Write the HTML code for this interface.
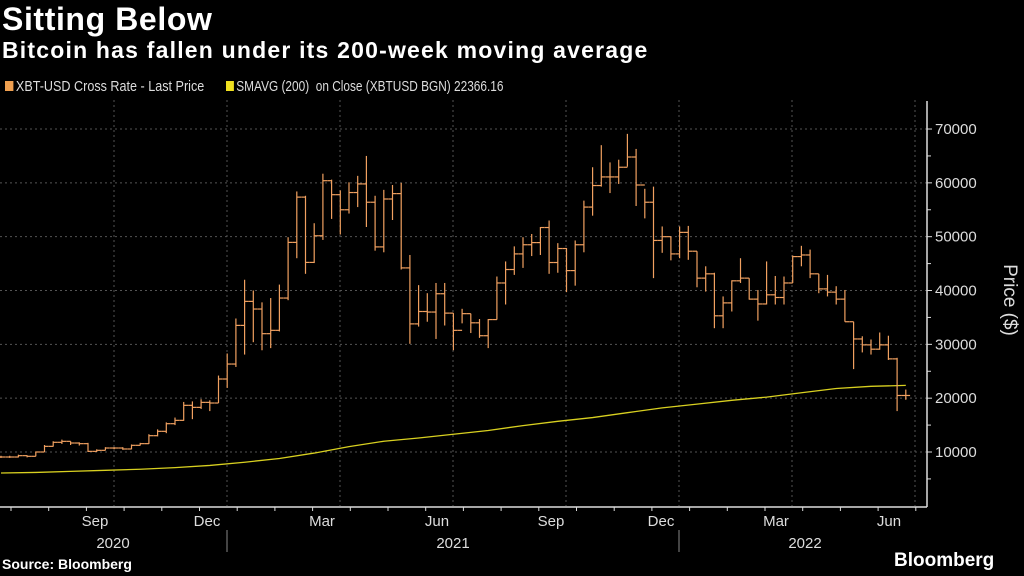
<!DOCTYPE html>
<html><head><meta charset="utf-8"><style>
html,body{margin:0;padding:0;background:#000;}
body{width:1024px;height:576px;overflow:hidden;font-family:"Liberation Sans",sans-serif;color:#fff;position:relative;}
.t{position:absolute;white-space:nowrap;}
</style></head><body>
<div class="t" style="left:2px;top:1px;font-size:32px;font-weight:bold;letter-spacing:0.6px;">Sitting Below</div>
<div class="t" style="left:2px;top:37px;font-size:23px;font-weight:bold;letter-spacing:1.2px;">Bitcoin has fallen under its 200-week moving average</div>
<div class="t" style="left:5px;top:78px;font-size:15px;color:#ddd;transform:scaleX(0.84);transform-origin:left;"><span style="display:inline-block;width:10px;height:10px;background:#f0a050;margin-right:3px;"></span>XBT-USD Cross Rate - Last Price</div>
<div class="t" style="left:226px;top:78px;font-size:15px;color:#ddd;transform:scaleX(0.79);transform-origin:left;"><span style="display:inline-block;width:10px;height:10px;background:#f0e020;margin-right:3px;"></span>SMAVG (200)&nbsp; on Close (XBTUSD BGN) 22366.16</div>
<div class="t" style="left:2px;top:556px;font-size:14px;font-weight:bold;">Source: Bloomberg</div>
<div class="t" style="left:894px;top:550px;font-size:19px;font-weight:bold;">Bloomberg</div>
<svg id="c" width="1024" height="576" style="position:absolute;left:0;top:0"></svg>
<script>
const highs=[9.3,9.3,9.5,9.4,10.1,11.3,12.0,12.3,12.0,11.8,11.7,10.5,10.9,10.9,10.9,11.4,11.7,13.3,14.2,15.5,16.4,19.3,19.4,19.8,19.6,24.2,28.3,34.8,42.0,40.0,37.8,38.6,41.1,49.9,58.4,57.6,52.5,
61.7,60.6,58.6,60.1,61.3,65.0,57.6,58.7,59.6,60.0,46.6,41.0,39.5,41.4,41.4,35.8,36.6,35.7,34.7,34.7,42.6,45.4,48.2,49.9,50.5,51.8,53.0,48.8,47.9,49.3,56.7,62.9,67.0,63.8,64.3,69.1,66.3,58.9,59.3,51.9,50.0,51.9,52.0,47.3,44.5,43.3,38.9,41.9,46.0,42.3,40.1,45.4,42.7,42.6,46.5,48.3,47.6,43.1,42.9,40.8,40.1,34.2,31.5,30.9,32.2,31.6,27.5,21.6];
const lows=[8.9,8.9,9.0,9.0,9.2,10.0,11.0,11.5,11.3,11.2,10.0,10.0,10.3,10.5,10.4,10.5,11.2,11.5,12.9,13.5,15.0,15.8,16.1,18.0,17.6,19.1,21.9,25.8,28.1,30.4,28.9,29.3,32.4,38.2,46.0,43.1,45.1,
49.4,53.3,50.4,54.3,55.5,51.8,47.4,47.1,53.1,43.9,30.1,33.3,34.2,31.0,33.5,28.9,33.9,32.1,31.2,29.3,34.6,37.4,42.9,44.2,46.4,46.6,43.1,43.3,39.7,40.9,47.1,53.9,59.3,58.1,59.8,63.0,55.7,53.4,42.3,47.0,45.6,46.0,45.7,40.6,39.8,33.0,33.0,36.1,41.4,38.3,34.4,37.4,37.4,37.4,41.4,44.5,42.3,39.5,38.9,37.4,34.2,25.4,28.5,28.1,29.0,27.1,17.6,19.7];
const closes=[9.07,9.07,9.32,9.2,10.0,11.05,11.8,11.98,11.67,11.55,10.12,10.31,10.74,10.74,10.56,11.24,11.55,13.03,13.84,15.26,15.88,18.67,18.29,19.22,19.1,23.56,26.34,33.52,37.98,36.56,31.98,32.6,38.6,48.94,57.35,45.22,50.17,
60.4,57.8,55.0,58.2,59.8,56.4,48.1,57.0,58.0,44.2,33.8,36.1,36.0,39.4,35.8,32.6,35.7,34.0,31.6,34.6,41.4,43.9,46.8,48.5,48.9,51.7,45.2,47.8,43.7,48.5,55.5,59.5,61.1,61.1,62.9,64.8,59.6,56.4,49.3,50.0,46.8,50.8,47.3,42.3,43.1,35.3,37.7,41.8,42.3,38.4,37.5,39.2,38.7,41.4,46.3,46.6,43.1,40.3,39.7,38.4,34.2,31.0,29.9,29.1,29.9,27.3,20.5,20.5];
const smaWeeks=[0,4,8,12,16,20,24,28,32,36,40,44,48,52,56,60,64,68,72,76,80,84,88,92,96,100,104];
const smaValues=[6.1,6.2,6.4,6.6,6.8,7.1,7.5,8.1,8.8,9.8,11.0,12.0,12.6,13.3,14.0,14.9,15.7,16.4,17.3,18.2,18.9,19.6,20.2,21.0,21.8,22.2,22.37];
const yTicks=[10000,20000,30000,40000,50000,60000,70000];
const monthLabels=["Sep","Dec","Mar","Jun","Sep","Dec","Mar","Jun"];
const yearLabels=["2020","2021","2022"];

const svg=document.getElementById('c');const NS='http://www.w3.org/2000/svg';
function mk(t,a,p){const e=document.createElementNS(NS,t);for(const k in a)e.setAttribute(k,a[k]);(p||svg).appendChild(e);return e;}
const X=i=>1+i*8.7;
const Y=v=>452-(v-10)*5.383;
const gridX=[114,227,340,453,566,679,792,915];
gridX.forEach(x=>{const g=mk('line',{x1:x,x2:x,y1:100,y2:506,stroke:'#555','stroke-dasharray':'2,3'});

});
yTicks.forEach(v=>{const y=Y(v/1000);
const g=mk('line',{x1:0,x2:927,y1:y,y2:y,stroke:'#555','stroke-dasharray':'2,3'});


mk('line',{x1:927,x2:932,y1:y,y2:y,stroke:'#ddd'});
const t=mk('text',{x:935,y:y+5,fill:'#ddd','font-size':15,'font-family':'Liberation Sans, sans-serif'});t.textContent=v;


const m=Y(v/1000-5);mk('line',{x1:927,x2:931,y1:m,y2:m,stroke:'#ddd'});});
const ya=mk('line',{x1:927,x2:927,y1:101,y2:507,stroke:'#ddd','stroke-width':1.5});


const xa=mk('line',{x1:0,x2:927,y1:507,y2:507,stroke:'#ddd','stroke-width':1.5});


for(let x=11;x<927;x+=37.7){mk('line',{x1:x,x2:x,y1:507,y2:511,stroke:'#ddd'});}
const mlx=[95,207,322,437,551,661,776,889];
monthLabels.forEach((m,i)=>{const t=mk('text',{x:mlx[i],y:526,fill:'#ddd','font-size':15,'text-anchor':'middle','font-family':'Liberation Sans, sans-serif'});t.textContent=m;

});
const ylx=[113,453,805];
yearLabels.forEach((m,i)=>{const t=mk('text',{x:ylx[i],y:548,fill:'#ddd','font-size':15,'text-anchor':'middle','font-family':'Liberation Sans, sans-serif'});t.textContent=m;

});
[227,679].forEach(x=>mk('line',{x1:x,x2:x,y1:530,y2:552,stroke:'#888'}));
const yt=mk('text',{x:1004,y:300,fill:'#ddd','font-size':19,'text-anchor':'middle',transform:'rotate(90 1004 300)','font-family':'Liberation Sans, sans-serif'});yt.textContent='Price ($)';


let d='';smaWeeks.forEach((w,i)=>{d+=(i?'L':'M')+X(w)+','+Y(smaValues[i]);});
const sl=mk('path',{d:d,fill:'none',stroke:'#d8d020','stroke-width':1.3});


closes.forEach((c,i)=>{const o=i?closes[i-1]:c;const x=X(i);
const g=mk('g',{stroke:'#f0a060','stroke-width':1.2,fill:'none'});


mk('line',{x1:x,x2:x,y1:Y(highs[i]),y2:Y(lows[i])},g);
mk('line',{x1:x-4.3,x2:x,y1:Y(o),y2:Y(o)},g);
mk('line',{x1:x,x2:x+4.3,y1:Y(c),y2:Y(c)},g);});
</script>
</body></html>
